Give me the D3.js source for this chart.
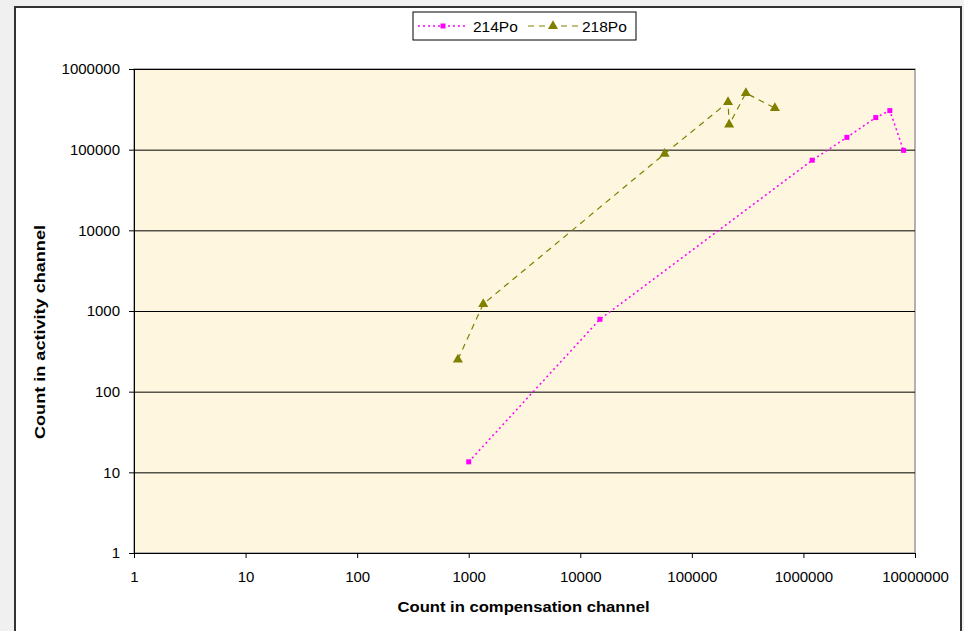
<!DOCTYPE html>
<html>
<head>
<meta charset="utf-8">
<script src="https://cdn.jsdelivr.net/npm/d3@7"></script>
<style>
  body { margin: 0; background: #f0f0f0; }
  svg { display: block; font-family: "Liberation Sans", Arial, sans-serif; }
  .tick text { font-size: 15px; fill: #000; }
  .axis-title { font-size: 15px; font-weight: bold; }
</style>
</head>
<body>
<div id="chart"></div>
<script>
// chart values
var seriesNames = ["214Po", "218Po"];
var po214_x = [1000, 15000, 1200000, 2450000, 4450000, 5950000, 7900000];
var po214_y = [13.5, 790, 74000, 142000, 250000, 305000, 98000];
var po218_x = [800, 1350, 57000, 211000, 216000, 305000, 555000];
var po218_y = [250, 1220, 89000, 388000, 204000, 503000, 327000];
var xTicks = [1, 10, 100, 1000, 10000, 100000, 1000000, 10000000];
var yTicks = [1, 10, 100, 1000, 10000, 100000, 1000000];

var W = 964, H = 631;
var margin = {top: 69, right: 49, bottom: 78, left: 134},
  width = W - margin.left - margin.right,
  height = H - margin.top - margin.bottom;

var svg = d3.select("#chart").append("svg")
    .attr("width", W)
    .attr("height", H);

// chart frame
svg.append("rect")
  .attr("x", 15).attr("y", 7)
  .attr("width", 946).attr("height", 640)
  .attr("fill", "#fff")
  .attr("stroke", "#333")
  .attr("stroke-width", 2);

var g = svg.append("g")
  .attr("transform", "translate(" + margin.left + "," + margin.top + ")");

var x = d3.scaleLog().domain([1, 1e7]).range([0, width]);
var y = d3.scaleLog().domain([1, 1e6]).range([height, 0]);

// plot area
g.append("rect")
  .attr("width", width).attr("height", height)
  .attr("fill", "#fef6de")
  .attr("stroke", "#999")
  .attr("stroke-width", 1.5);

// gridlines
g.append("g")
  .attr("class", "grid")
  .call(d3.axisLeft(y).tickValues(yTicks).tickSize(-width).tickFormat(""))
  .call(function(s) {
    s.select(".domain").remove();
    s.selectAll("line").attr("stroke", "#000").attr("stroke-width", 1);
  });

// axes
g.append("g")
  .attr("transform", "translate(0," + height + ")")
  .call(d3.axisBottom(x).tickValues(xTicks).tickSize(5).tickPadding(13).tickFormat(d3.format("d")))
  .call(function(s) { s.selectAll("path, line").attr("stroke", "#000"); });

g.append("g")
  .call(d3.axisLeft(y).tickValues(yTicks).tickSize(5).tickPadding(9).tickFormat(d3.format("d")))
  .call(function(s) { s.selectAll("path, line").attr("stroke", "#000"); });

// axis titles
svg.append("text")
  .attr("class", "axis-title")
  .attr("x", margin.left + width / 2 - 1)
  .attr("y", 612)
  .attr("text-anchor", "middle")
  .attr("textLength", 252)
  .attr("lengthAdjust", "spacingAndGlyphs")
  .text("Count in compensation channel");

svg.append("text")
  .attr("class", "axis-title")
  .attr("transform", "translate(45," + 332 + ") rotate(-90)")
  .attr("text-anchor", "middle")
  .attr("textLength", 214)
  .attr("lengthAdjust", "spacingAndGlyphs")
  .text("Count in activity channel");

var line = d3.line()
  .x(function(d) { return x(d[0]); })
  .y(function(d) { return y(d[1]); });

var data214 = d3.zip(po214_x, po214_y);
var data218 = d3.zip(po218_x, po218_y);

g.append("path")
  .datum(data218)
  .attr("d", line)
  .attr("fill", "none")
  .attr("stroke", "#808000")
  .attr("stroke-width", 1.2)
  .attr("stroke-dasharray", "6,5");

g.append("path")
  .datum(data214)
  .attr("d", line)
  .attr("fill", "none")
  .attr("stroke", "#ff00ff")
  .attr("stroke-width", 1.5)
  .attr("stroke-dasharray", "2,3");

var tri = d3.symbol().type(d3.symbolTriangle).size(44);

g.selectAll(".p218")
  .data(data218)
  .enter().append("path")
  .attr("class", "p218")
  .attr("d", tri)
  .attr("transform", function(d) { return "translate(" + x(d[0]) + "," + y(d[1]) + ")"; })
  .attr("fill", "#808000");

g.selectAll(".p214")
  .data(data214)
  .enter().append("rect")
  .attr("class", "p214")
  .attr("x", function(d) { return x(d[0]) - 2.5; })
  .attr("y", function(d) { return y(d[1]) - 2.5; })
  .attr("width", 5).attr("height", 5)
  .attr("fill", "#ff00ff");

// legend
var legend = svg.append("g").attr("transform", "translate(413,12)");
legend.append("rect")
  .attr("width", 223).attr("height", 28)
  .attr("fill", "#fff")
  .attr("stroke", "#000")
  .attr("stroke-width", 1);

legend.append("line")
  .attr("x1", 5).attr("x2", 55).attr("y1", 14).attr("y2", 14)
  .attr("stroke", "#ff00ff").attr("stroke-width", 1.5).attr("stroke-dasharray", "2,3");
legend.append("rect")
  .attr("x", 27.5).attr("y", 11.5).attr("width", 5).attr("height", 5)
  .attr("fill", "#ff00ff");
legend.append("text")
  .attr("x", 60).attr("y", 19.5)
  .attr("font-size", 15.5)
  .text(seriesNames[0]);

legend.append("line")
  .attr("x1", 115).attr("x2", 165).attr("y1", 14).attr("y2", 14)
  .attr("stroke", "#808000").attr("stroke-width", 1.2).attr("stroke-dasharray", "6,5");
legend.append("path")
  .attr("d", tri)
  .attr("transform", "translate(140,14)")
  .attr("fill", "#808000");
legend.append("text")
  .attr("x", 169).attr("y", 19.5)
  .attr("font-size", 15.5)
  .text(seriesNames[1]);
</script>
</body>
</html>
